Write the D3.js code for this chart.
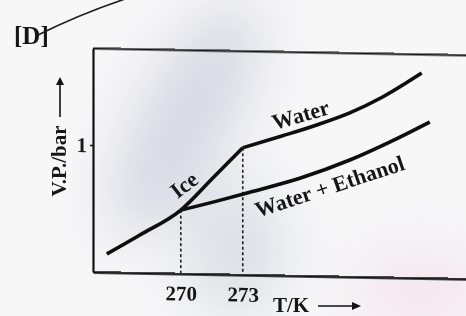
<!DOCTYPE html>
<html>
<head>
<meta charset="utf-8">
<script src="https://cdn.jsdelivr.net/npm/d3@7"></script>
<style>
  body { margin: 0; background: #f7f7f8; }
  svg { display: block; }
  text { font-family: "Liberation Serif", "DejaVu Serif", serif; font-weight: bold; fill: #161616; }
</style>
</head>
<body>
<div id="chart"></div>
<script>
var W = 466, H = 316

// vapour pressure curves (T in K, V.P. in bar)
var iceT = [266.42, 268.02, 270, 271.55, 273]
var iceVP = [0.144, 0.298, 0.50, 0.757, 1.0]
var waterT = [273, 274.93, 276.58, 278.18, 279.77, 281.66]
var waterVP = [1.0, 1.10, 1.19, 1.29, 1.42, 1.614]
var solT = [270, 271.74, 273.34, 275.76, 278.18, 280.11, 282.05]
var solVP = [0.50, 0.576, 0.651, 0.768, 0.919, 1.066, 1.230]

var xTicks = [270, 273]
var yTicks = [1]
var marks = [{ t: 270, vp: 0.50 }, { t: 273, vp: 1.0 }]

function zip(ts, vs) { return ts.map(function(t, i) { return { t: t, vp: vs[i] } }) }

var svg = d3.select("#chart").append("svg")
    .attr("width", W)
    .attr("height", H)

// paper shading of the photo
var defs = svg.append("defs")
defs.append("filter").attr("id", "blur")
    .attr("x", "-50%").attr("y", "-50%").attr("width", "200%").attr("height", "200%")
    .append("feGaussianBlur").attr("stdDeviation", 28)

var shade = svg.append("g").attr("filter", "url(#blur)")
shade.append("ellipse")
    .attr("cx", 185).attr("cy", 120).attr("rx", 45).attr("ry", 130)
    .attr("transform", "rotate(28,185,120)")
    .attr("fill", "#c9cbd8").attr("opacity", 0.7)
shade.append("ellipse")
    .attr("cx", 235).attr("cy", 250).attr("rx", 50).attr("ry", 70)
    .attr("fill", "#cfd0dc").attr("opacity", 0.6)
shade.append("ellipse")
    .attr("cx", 420).attr("cy", 290).attr("rx", 70).attr("ry", 40)
    .attr("fill", "#f3e2ea").attr("opacity", 0.8)

// "[D]" and the pen stroke across it
svg.append("text")
    .attr("x", 14).attr("y", 44)
    .style("font-size", "25px")
    .text("[D]")

var pen = d3.path()
pen.moveTo(38, 35)
pen.quadraticCurveTo(80, 14, 128, -2)
svg.append("path")
    .attr("d", pen.toString())
    .attr("fill", "none")
    .attr("stroke", "#1c1c22")
    .attr("stroke-width", 1.6)

// plot, with the slight skew of the photographed page
var g = svg.append("g")
    .attr("transform", "translate(93,0) skewY(1.05) translate(-93,0)")

var x = d3.scaleLinear().domain([265.75, 284]).range([93, 470])
var y = d3.scaleLinear().domain([0, 1.76]).range([272, 48.5])

// frame: top line
g.append("line")
    .attr("x1", x(265.75)).attr("x2", x(284))
    .attr("y1", y(1.76)).attr("y2", y(1.76))
    .attr("stroke", "#111").attr("stroke-width", 2.2)

var xAxis = g.append("g")
    .attr("transform", "translate(0," + y(0) + ")")
    .call(d3.axisBottom(x).tickValues(xTicks).tickSize(0).tickSizeOuter(0).tickPadding(12))
xAxis.select(".domain").attr("stroke", "#111").attr("stroke-width", 2.4)
xAxis.selectAll("text").style("font-size", "21px").style("font-family", null).attr("fill", "#161616")

var yAxis = g.append("g")
    .attr("transform", "translate(" + x(265.75) + ",0)")
    .call(d3.axisLeft(y).tickValues(yTicks).tickFormat(d3.format("d"))
        .tickSize(3).tickSizeOuter(0).tickPadding(3))
yAxis.select(".domain").attr("stroke", "#111").attr("stroke-width", 2.2)
yAxis.selectAll(".tick line").attr("stroke", "#111").attr("stroke-width", 1.5)
yAxis.selectAll("text").style("font-size", "21px").style("font-family", null).attr("fill", "#161616")

// dotted drop lines
g.selectAll(".drop").data(marks).enter().append("line")
    .attr("class", "drop")
    .attr("x1", function(d) { return x(d.t) }).attr("x2", function(d) { return x(d.t) })
    .attr("y1", function(d) { return y(d.vp) }).attr("y2", y(0))
    .attr("stroke", "#222").attr("stroke-width", 1.6)
    .attr("stroke-dasharray", "3,2.5")

var line = d3.line()
    .x(function(d) { return x(d.t) })
    .y(function(d) { return y(d.vp) })
    .curve(d3.curveMonotoneX)

;[zip(iceT, iceVP), zip(waterT, waterVP), zip(solT, solVP)].forEach(function(s) {
    g.append("path")
        .datum(s)
        .attr("d", line)
        .attr("fill", "none")
        .attr("stroke", "#0e0e0e")
        .attr("stroke-width", 3.6)
        .attr("stroke-linejoin", "miter")
})

// curve labels
function label(text, t, vp, angle, size) {
    g.append("text")
        .attr("transform", "translate(" + x(t) + "," + y(vp) + ") rotate(" + angle + ")")
        .attr("text-anchor", "middle")
        .attr("dy", "0.35em")
        .style("font-size", size + "px")
        .text(text)
}
label("Ice", 270.15, 0.70, -38, 22)
label("Water", 275.8, 1.27, -17, 22)
label("Water + Ethanol", 277.2, 0.71, -19, 22)

// axis titles with arrows
var ay = svg.append("g").attr("transform", "translate(59,161) rotate(-90)")
ay.append("text")
    .attr("x", 0).attr("y", 0)
    .attr("text-anchor", "middle")
    .attr("dy", "0.35em")
    .style("font-size", "21px")
    .text("V.P./bar")
ay.append("line")
    .attr("x1", 44).attr("x2", 78).attr("y1", 1).attr("y2", 1)
    .attr("stroke", "#111").attr("stroke-width", 1.6)
ay.append("path")
    .attr("d", "M76,-3 L84,1 L76,5 Z")
    .attr("fill", "#111")

svg.append("text")
    .attr("x", 273).attr("y", 312)
    .style("font-size", "21px")
    .text("T/K")
svg.append("line")
    .attr("x1", 318).attr("x2", 354).attr("y1", 306).attr("y2", 306)
    .attr("stroke", "#111").attr("stroke-width", 1.6)
svg.append("path")
    .attr("d", "M352,302 L361,306 L352,310 Z")
    .attr("fill", "#111")
</script>
</body>
</html>
